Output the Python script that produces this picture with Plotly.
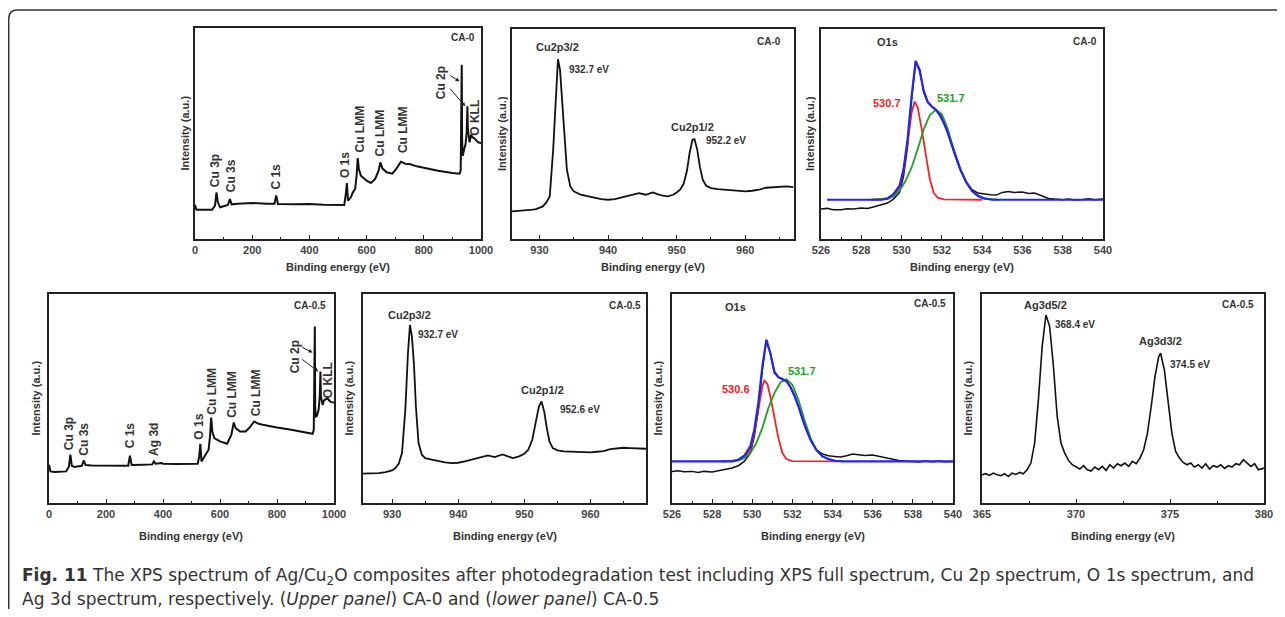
import plotly.graph_objects as go

# page body has an 8px default margin, so the figure is drawn 8px in from each edge
OFF = 8
W, H = 1285 - 2 * OFF, 617 - 2 * OFF

# ---------------- DATA ----------------
# Panel 1: survey CA-0
sv0_x = [0, 5, 20, 60, 70, 75, 80, 88, 100, 115, 122, 128, 150, 200, 250, 278, 284, 290, 350, 400, 450, 500,
         522, 528, 531, 535, 545, 552, 560, 565, 569, 573, 580, 600, 615, 630, 642, 648, 655, 670, 690, 705,
         720, 735, 750, 775, 800, 850, 900, 925, 929, 931, 932.7, 934, 936, 940, 946, 950, 952.5, 954, 957,
         960, 965, 970, 976, 982, 990, 1000]
sv0_y = [103, 88, 88, 88, 100, 140, 110, 95, 98, 102, 120, 104, 106, 108, 106, 106, 131, 105, 104, 105, 103, 101,
         102, 140, 168, 115, 125, 140, 150, 190, 243, 210, 190, 175, 168, 180, 205, 230, 212, 200, 196, 212,
         232, 226, 225, 218, 213, 205, 198, 196, 205, 350, 523, 300, 250, 265, 285, 320, 398, 330, 295,
         290, 313, 305, 303, 298, 290, 288]

# Panel 4: survey CA-0.5
sv5_x = [0, 5, 20, 60, 70, 75, 80, 90, 100, 115, 122, 128, 150, 200, 250, 278, 284, 290, 330, 362, 368, 374,
         395, 400, 450, 500, 522, 527, 531, 535, 545, 552, 560, 565, 569, 573, 580, 600, 625, 640, 648, 655,
         670, 690, 705, 720, 735, 750, 775, 800, 850, 900, 925, 929, 931, 932.7, 934, 936, 940, 946, 950,
         952.5, 954, 957, 960, 965, 970, 977, 983, 990, 1000]
sv5_y = [115, 95, 93, 95, 110, 145, 112, 108, 110, 112, 128, 114, 113, 112, 112, 112, 142, 114, 115, 116, 125, 118,
         120, 118, 117, 117, 118, 140, 178, 125, 140, 152, 160, 200, 257, 215, 195, 185, 178, 205, 242, 225,
         215, 215, 228, 245, 238, 235, 230, 227, 220, 212, 208, 220, 360, 530, 290, 260, 262, 280, 320,
         395, 320, 300, 295, 308, 310, 315, 308, 303, 302]

# Panel 2: Cu 2p CA-0
cu0_x = [926, 927, 928, 929, 929.5, 930, 930.5, 931, 931.5, 932, 932.4, 932.7, 933.0, 933.3, 933.6, 934, 934.5,
         935, 936, 937, 938, 939, 940, 941, 942, 943, 944, 944.5, 945.5, 946.5, 947.2, 948, 948.7, 949.5, 950,
         950.5, 951, 951.5, 951.9, 952.3, 952.6, 953, 953.4, 953.8, 954.3, 955, 956, 957, 958, 959, 960, 961,
         962, 963, 964, 965, 966, 967]
cu0_y = [83, 84, 85, 88, 90, 93, 98, 110, 128, 268, 420, 540, 508, 420, 300, 208, 158,
         143, 133, 128, 123, 120, 118, 120, 125, 130, 136, 138, 133, 140, 135, 130, 128, 133, 140,
         148, 165, 205, 260, 298, 300, 268, 215, 178, 160, 153, 150, 148, 146, 145, 143, 145,
         148, 154, 156, 157, 158, 156]

# Panel 5: Cu 2p CA-0.5
cu5_x = [925.6, 927, 928, 929, 930, 930.5, 931, 931.5, 932, 932.4, 932.7, 933.0, 933.3, 933.6, 934, 934.5, 935,
         936, 937, 938, 939, 940, 941, 942, 943, 944, 944.5, 945.5, 946.7, 947.5, 948.3, 949.2, 950, 950.6,
         951.2, 951.7, 952.2, 952.6, 953, 953.4, 953.8, 954.3, 955, 956, 957, 958, 959, 960, 961, 962, 963,
         964, 965, 966, 967, 968.4]
cu5_y = [88, 89, 90, 93, 98, 105, 118, 150, 280, 450, 535, 500, 420, 290, 180, 145, 135,
         130, 125, 122, 120, 121, 125, 130, 135, 140, 143, 138, 146, 140, 135, 140, 148, 160,
         190, 240, 290, 305, 275, 225, 185, 165, 158, 155, 154, 153, 152, 152, 154, 156, 162,
         164, 166, 165, 164, 163]

# Panel 3: O 1s CA-0
o0_x = [526.0, 526.3, 526.6, 527.0, 527.3, 527.6, 528.0, 528.3, 528.6, 529.0, 529.3, 529.6, 529.9, 530.1, 530.3,
        530.5, 530.7, 530.9, 531.1, 531.3, 531.5, 531.7, 531.9, 532.1, 532.3, 532.6, 532.9, 533.2, 533.5, 533.8,
        534.1, 534.4, 534.7, 535.0, 535.3, 535.6, 536.0, 536.3, 536.6, 537.0, 537.3, 537.6, 538.0, 538.3, 538.6,
        539.0, 539.3, 539.6, 540.0]
o0_y = [90, 92, 88, 88, 91, 90, 93, 92, 96, 103, 108, 120, 140, 190, 280,
        420, 533, 510, 440, 410, 398, 390, 375, 350, 318, 260, 210, 172, 148, 138,
        135, 133, 132, 140, 143, 140, 141, 137, 138, 130, 122, 120, 118, 120, 117,
        119, 121, 118, 120]
o0_env_x = [526.3, 529.0, 529.3, 529.6, 529.9, 530.1, 530.3, 530.5, 530.7, 530.9, 531.1, 531.3, 531.5, 531.7,
            531.9, 532.1, 532.3, 532.6, 532.9, 533.2, 533.5, 533.8, 534.1, 534.5, 540.0]
o0_env_y = [118, 118, 122, 135, 160, 210, 300, 430, 535, 505, 445, 412, 398, 388,
            372, 348, 318, 262, 212, 172, 145, 130, 122, 118, 118]
o0_r_x = [528.5, 529.3, 529.6, 529.9, 530.1, 530.3, 530.5, 530.65, 530.8, 531.0, 531.2, 531.4, 531.6, 531.8,
          532.1, 534.0]
o0_r_y = [118, 120, 128, 155, 205, 290, 380, 413, 395, 330, 250, 180, 138, 124, 119, 118]
o0_g_x = [528.5, 529.3, 529.6, 529.9, 530.2, 530.5, 530.8, 531.1, 531.4, 531.7, 532.0, 532.3, 532.6, 532.9,
          533.2, 533.5, 533.8, 534.1, 534.8]
o0_g_y = [118, 122, 128, 145, 175, 215, 270, 330, 372, 388, 375, 330, 265, 210, 170, 143, 128, 121, 118]

# Panel 6: O 1s CA-0.5
o5_x = [526.0, 526.3, 526.6, 527.0, 527.3, 527.6, 528.0, 528.3, 528.6, 529.0, 529.3, 529.6, 529.9, 530.1, 530.3,
        530.5, 530.7, 530.9, 531.1, 531.3, 531.5, 531.7, 531.9, 532.1, 532.3, 532.6, 532.9, 533.2, 533.5, 533.8,
        534.1, 534.4, 534.7, 535.0, 535.3, 535.6, 536.0, 536.3, 536.6, 537.0, 537.3, 537.6, 538.0, 538.3, 538.6,
        539.0, 539.3, 539.6, 540.0]
o5_y = [95, 97, 94, 95, 92, 95, 93, 97, 100, 105, 112, 125, 150, 200, 280,
        400, 490, 450, 390, 378, 373, 368, 350, 325, 290, 235, 190, 160, 147, 142,
        140, 138, 142, 147, 145, 143, 144, 140, 136, 132, 128, 126, 125, 123, 126,
        124, 126, 124, 125]
o5_env_x = [526.0, 529.0, 529.3, 529.6, 529.9, 530.1, 530.3, 530.5, 530.7, 530.9, 531.1, 531.3, 531.5, 531.7,
            531.9, 532.1, 532.3, 532.6, 532.9, 533.2, 533.5, 533.8, 534.1, 534.5, 540.0]
o5_env_y = [125, 125, 130, 142, 170, 220, 300, 410, 490, 450, 395, 378, 372, 366,
            348, 322, 290, 235, 190, 158, 140, 132, 127, 125, 125]
o5_r_x = [528.5, 529.3, 529.6, 529.9, 530.1, 530.3, 530.5, 530.6, 530.75, 530.9, 531.1, 531.3, 531.5, 531.7,
          532.0, 534.3]
o5_r_y = [125, 128, 135, 160, 210, 285, 350, 368, 358, 320, 255, 195, 150, 132, 126, 125]
o5_g_x = [528.5, 529.3, 529.6, 529.9, 530.2, 530.5, 530.8, 531.1, 531.4, 531.7, 532.0, 532.3, 532.6, 532.9,
          533.2, 533.5, 533.8, 534.1, 534.5]
o5_g_y = [125, 128, 135, 150, 180, 225, 285, 330, 362, 372, 355, 310, 250, 195, 160, 140, 131, 127, 125]

# Panel 7: Ag 3d CA-0.5
ag_x = [365.0, 365.2, 365.4, 365.6, 365.8, 366.0, 366.2, 366.4, 366.6, 366.8, 367.0, 367.2, 367.4, 367.6, 367.8,
        368.0, 368.2, 368.4, 368.6, 368.8, 369.0, 369.2, 369.4, 369.6, 369.8, 370.0, 370.2, 370.4, 370.6, 370.8,
        371.0, 371.2, 371.4, 371.6, 371.8, 372.0, 372.2, 372.4, 372.6, 372.8, 373.0, 373.2, 373.4, 373.6, 373.8,
        374.0, 374.2, 374.4, 374.5, 374.7, 374.9, 375.1, 375.3, 375.5, 375.7, 375.9, 376.1, 376.3, 376.5, 376.7,
        376.9, 377.1, 377.3, 377.5, 377.7, 377.9, 378.1, 378.3, 378.5, 378.7, 378.9, 379.1, 379.3, 379.5, 379.7,
        380.0]
ag_y = [85, 88, 83, 90, 85, 82, 88, 80, 90, 86, 92, 88, 100, 120, 180,
        310, 470, 565, 530, 410, 260, 180, 150, 128, 115, 108, 102, 112, 100, 96,
        108, 100, 110, 98, 115, 105, 118, 112, 120, 110, 125, 118, 135, 160, 210,
        290, 380, 440, 450, 400, 300, 210, 155, 135, 122, 115, 120, 108, 115, 105,
        118, 102, 112, 108, 115, 104, 112, 108, 118, 115, 130, 120, 110, 118, 100,
        105]

# Peak labels
sv0_lbl = ["Cu 3p", "Cu 3s", "C 1s", "O 1s", "Cu LMM", "Cu LMM", "Cu LMM", "Cu 2p", "O KLL"]
sv0_lx = [70, 126, 284, 527, 578, 650, 727, 858, 978]
sv0_ly = [148, 133, 143, 176, 253, 243, 253, 413, 303]
sv5_lbl = ["Cu 3p", "Cu 3s", "C 1s", "Ag 3d", "O 1s", "Cu LMM", "Cu LMM", "Cu LMM", "Cu 2p", "O KLL"]
sv5_lx = [71, 123, 284, 366, 527, 571, 644, 725, 863, 980]
sv5_ly = [152, 135, 158, 135, 185, 260, 250, 255, 385, 310]

# ---------------- LAYOUT ----------------
TXT = "#333333"
FONT = "Liberation Sans, Arial, sans-serif"


def px(v):
    return (v - OFF) / W


def py(v):
    return 1 - (v - OFF) / H


# panel boxes in page pixels: (left, right, top, bottom)
boxes = [
    (195, 481, 28, 239),
    (512, 794, 29, 239),
    (821, 1103, 29, 239),
    (49, 334, 294, 503),
    (363, 646, 294, 503),
    (672, 953, 294, 503),
    (982, 1264, 294, 503),
]
xranges = [[0, 1000], [926, 967.1], [526, 540], [0, 1000], [925.6, 968.4], [526, 540], [365, 380]]
yranges = [[0, 633], [0, 631], [0, 631], [0, 628], [0, 628], [0, 628], [0, 628]]
dticks = [200, 10, 2, 200, 10, 2, 5]
tick0s = [0, 930, 526, 0, 930, 526, 365]
mdticks = [100, 5, 1, 100, 5, 1, 2.5]
ytitle_off = [11, 10, 11, 14, 15, 15, 15]

fig = go.Figure()
layout = dict(width=W, height=H, margin=dict(l=0, r=0, t=0, b=0, autoexpand=False), paper_bgcolor="white",
              plot_bgcolor="white", showlegend=False, annotations=[], shapes=[])

for i, (l, r, t, b) in enumerate(boxes):
    k = "" if i == 0 else str(i + 1)
    layout["xaxis" + k] = dict(
        domain=[px(l), px(r)], range=xranges[i], anchor="y" + k, showline=True, mirror=True,
        linecolor="#222", linewidth=1.5, ticks="inside", ticklen=4, tickwidth=1.2, tickcolor="#222",
        dtick=dticks[i], tick0=tick0s[i], showgrid=False, zeroline=False,
        tickfont=dict(family=FONT, size=11, color="#444", weight="bold"),
        minor=dict(ticks="inside", ticklen=2.5, dtick=mdticks[i], tick0=tick0s[i], tickcolor="#222",
                   showgrid=False),
        fixedrange=True,
    )
    layout["yaxis" + k] = dict(
        domain=[py(b), py(t)], range=yranges[i], anchor="x" + k, showline=True, mirror=True,
        linecolor="#222", linewidth=1.5, showticklabels=False, ticks="", showgrid=False, zeroline=False,
        fixedrange=True,
    )
    xt_y = 267 if i < 3 else 536
    layout["annotations"].append(dict(
        text="Binding energy (eV)", xref="paper", yref="paper", x=px((l + r) / 2), y=py(xt_y),
        xanchor="center", yanchor="middle", showarrow=False,
        font=dict(family=FONT, size=11, color=TXT, weight="bold")))
    layout["annotations"].append(dict(
        text="Intensity (a.u.)", xref="paper", yref="paper", x=px(l - ytitle_off[i]), y=py((t + b) / 2),
        xanchor="center", yanchor="middle", textangle=-90, showarrow=False,
        font=dict(family=FONT, size=11, color=TXT, weight="bold")))


def add_line(i, xs, ys, color="#111111", width=1.8):
    k = "" if i == 0 else str(i + 1)
    fig.add_trace(go.Scatter(x=xs, y=ys, mode="lines", line=dict(color=color, width=width),
                             xaxis="x" + k, yaxis="y" + k, hoverinfo="skip"))


def ann(i, text, x, y, xanchor="center", yanchor="middle", color=TXT, size=11, angle=0):
    k = "" if i == 0 else str(i + 1)
    layout["annotations"].append(dict(
        text=text, x=x, y=y, xref="x" + k, yref="y" + k, xanchor=xanchor, yanchor=yanchor,
        showarrow=False, textangle=angle, font=dict(family=FONT, size=size, color=color, weight="bold")))


def arrow(i, x0, y0, x1, y1):
    k = "" if i == 0 else str(i + 1)
    layout["annotations"].append(dict(
        text="", x=x1, y=y1, ax=x0, ay=y0, xref="x" + k, yref="y" + k, axref="x" + k, ayref="y" + k,
        showarrow=True, arrowhead=2, arrowsize=0.8, arrowwidth=1, arrowcolor="#222"))


BLUE, RED, GREEN = "#2424f0", "#f02424", "#22a022"

# Panel 1
add_line(0, sv0_x, sv0_y, width=2)
for t_, x_, y_ in zip(sv0_lbl, sv0_lx, sv0_ly):
    ann(0, t_, x_, y_, yanchor="bottom", angle=-90, size=12)
ann(0, "CA-0", 986, 603, xanchor="right", size=10)
arrow(0, 887, 493, 925, 473)
arrow(0, 887, 456, 945, 398)

# Panel 2
add_line(1, cu0_x, cu0_y)
ann(1, "Cu2p3/2", 932.6, 578)
ann(1, "932.7 eV", 934.0, 510, xanchor="left", size=10)
ann(1, "Cu2p1/2", 952.3, 336)
ann(1, "952.2 eV", 954.0, 296, xanchor="left", size=10)
ann(1, "CA-0", 965.5, 593, xanchor="right", size=10)

# Panel 3
add_line(2, o0_x, o0_y, width=1.5)
add_line(2, o0_r_x, o0_r_y, color=RED, width=1.8)
add_line(2, o0_g_x, o0_g_y, color=GREEN, width=1.8)
add_line(2, o0_env_x, o0_env_y, color=BLUE, width=2.2)
ann(2, "O1s", 529.3, 593)
ann(2, "530.7", 529.3, 410, color=RED)
ann(2, "531.7", 532.45, 423, color=GREEN)
ann(2, "CA-0", 539.8, 593, xanchor="right", size=10)

# Panel 4
add_line(3, sv5_x, sv5_y, width=2)
for t_, x_, y_ in zip(sv5_lbl, sv5_lx, sv5_ly):
    ann(3, t_, x_, y_, yanchor="bottom", angle=-90, size=12)
ann(3, "CA-0.5", 980, 592, xanchor="right", size=10)
arrow(3, 883, 470, 925, 452)
arrow(3, 883, 435, 945, 395)

# Panel 5
add_line(4, cu5_x, cu5_y)
ann(4, "Cu2p3/2", 932.7, 565)
ann(4, "932.7 eV", 933.6, 505, xanchor="left", size=10)
ann(4, "Cu2p1/2", 952.8, 340)
ann(4, "952.6 eV", 955.1, 282, xanchor="left", size=10)
ann(4, "CA-0.5", 967.9, 592, xanchor="right", size=10)

# Panel 6
add_line(5, o5_x, o5_y, width=1.5)
add_line(5, o5_r_x, o5_r_y, color=RED, width=1.8)
add_line(5, o5_g_x, o5_g_y, color=GREEN, width=1.8)
add_line(5, o5_env_x, o5_env_y, color=BLUE, width=2.2)
ann(5, "O1s", 529.17, 590)
ann(5, "530.6", 529.2, 343, color=RED)
ann(5, "531.7", 532.5, 397, color=GREEN)
ann(5, "CA-0.5", 539.75, 600, xanchor="right", size=10)

# Panel 7
add_line(6, ag_x, ag_y, width=1.6)
ann(6, "Ag3d5/2", 368.4, 595)
ann(6, "368.4 eV", 368.8, 535, xanchor="left", size=10)
ann(6, "Ag3d3/2", 374.5, 488)
ann(6, "374.5 eV", 374.9, 415, xanchor="left", size=10)
ann(6, "CA-0.5", 379.6, 595, xanchor="right", size=10)

# Caption
CAP_FONT = "DejaVu Sans, sans-serif"
layout["annotations"].append(dict(
    text="<b>Fig. 11</b> The XPS spectrum of Ag/Cu<sub>2</sub>O composites after photodegradation test including "
         "XPS full spectrum, Cu 2p spectrum, O 1s spectrum, and",
    xref="paper", yref="paper", x=px(20), y=py(576), xanchor="left", yanchor="middle", showarrow=False,
    font=dict(family=CAP_FONT, size=17, color="#333")))
layout["annotations"].append(dict(
    text="Ag 3d spectrum, respectively. (<i>Upper panel</i>) CA-0 and (<i>lower panel</i>) CA-0.5",
    xref="paper", yref="paper", x=px(20), y=py(599), xanchor="left", yanchor="middle", showarrow=False,
    font=dict(family=CAP_FONT, size=17, color="#333")))

# Outer rounded frame
layout["shapes"].append(dict(
    type="path", xref="paper", yref="paper",
    path=f"M {px(8.7)} {py(620)} L {px(8.7)} {py(19)} Q {px(8.7)} {py(10)} {px(17.5)} {py(10)} "
         f"L {px(1290)} {py(10)}",
    line=dict(color="#333", width=1.5)))

fig.update_layout(**layout)
fig.write_html("out.html")
